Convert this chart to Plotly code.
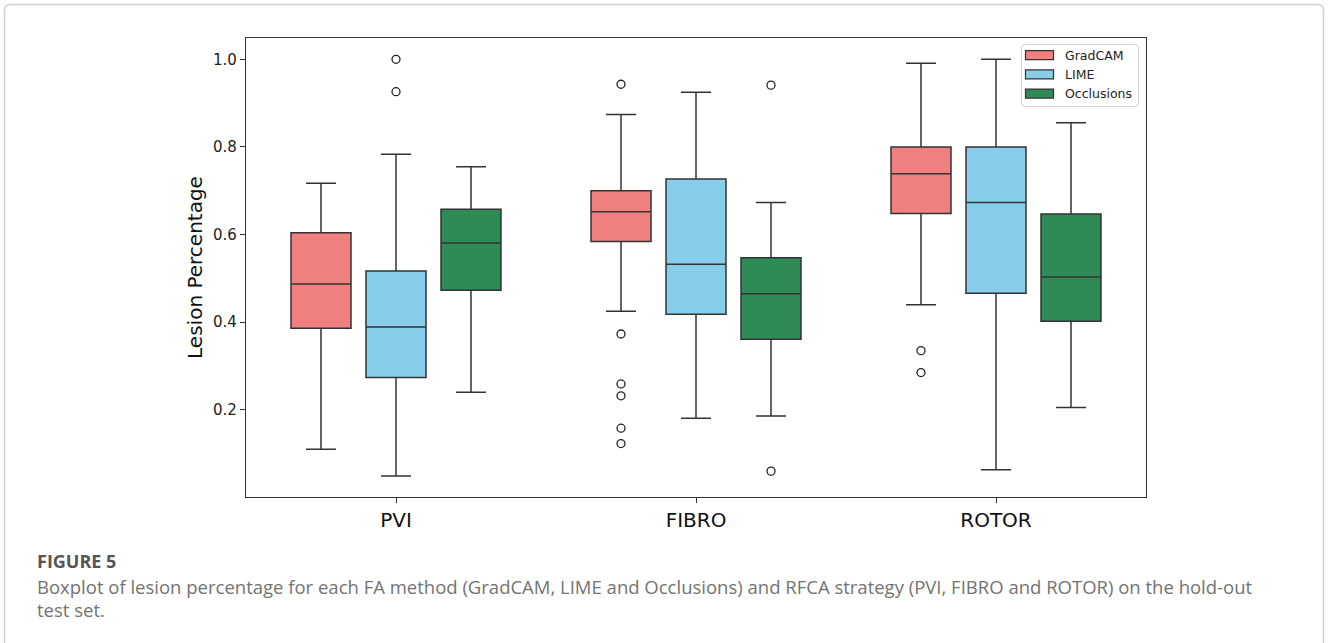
import plotly.graph_objects as go

# Strategies on the x axis and attribution methods as hue
categories = ["PVI", "FIBRO", "ROTOR"]
methods = ["GradCAM", "LIME", "Occlusions"]
colors = ["#F08080", "#87CEEB", "#2E8B57"]

# Box statistics per method, one value per strategy (PVI, FIBRO, ROTOR)
gradcam_low = [0.110, 0.425, 0.440]
gradcam_q1 = [0.386, 0.584, 0.648]
gradcam_med = [0.487, 0.652, 0.739]
gradcam_q3 = [0.604, 0.700, 0.800]
gradcam_high = [0.717, 0.874, 0.991]
gradcam_out = [[], [0.943, 0.373, 0.259, 0.232, 0.158, 0.123], [0.335, 0.285]]

lime_low = [0.049, 0.181, 0.063]
lime_q1 = [0.274, 0.418, 0.466]
lime_med = [0.389, 0.532, 0.673]
lime_q3 = [0.517, 0.727, 0.800]
lime_high = [0.783, 0.925, 1.000]
lime_out = [[1.000, 0.926], [], []]

occl_low = [0.240, 0.186, 0.205]
occl_q1 = [0.473, 0.361, 0.402]
occl_med = [0.581, 0.465, 0.503]
occl_q3 = [0.658, 0.547, 0.647]
occl_high = [0.755, 0.673, 0.855]
occl_out = [[], [0.941, 0.060], []]

y_ticks = [0.2, 0.4, 0.6, 0.8, 1.0]

stats = [
    (gradcam_low, gradcam_q1, gradcam_med, gradcam_q3, gradcam_high, gradcam_out),
    (lime_low, lime_q1, lime_med, lime_q3, lime_high, lime_out),
    (occl_low, occl_q1, occl_med, occl_q3, occl_high, occl_out),
]

W, H = 1328, 643
ML, MR, MT, MB = 246, 182, 38, 146
PW, PH = W - ML - MR, H - MT - MB

EDGE = "#333333"
AXIS_FONT = "DejaVu Sans"
CAP_FONT = "Open Sans"

fig = go.Figure()

slot = 0.25      # spacing between hue boxes within a strategy
box_w = 0.2      # box width in category units

for m, (name, col, st) in enumerate(zip(methods, colors, stats)):
    low, q1, med, q3, high, outs = st
    xs = [i + (m - 1) * slot for i in range(len(categories))]
    fig.add_trace(go.Box(
        x=xs, q1=q1, median=med, q3=q3, lowerfence=low, upperfence=high,
        name=name, width=box_w, whiskerwidth=0.5,
        fillcolor=col, line=dict(color=EDGE, width=1.5),
        boxpoints=False, hoverinfo="skip", showlegend=False,
    ))
    ox, oy = [], []
    for i, vals in enumerate(outs):
        for v in vals:
            ox.append(xs[i])
            oy.append(v)
    if ox:
        fig.add_trace(go.Scatter(
            x=ox, y=oy, mode="markers", showlegend=False, hoverinfo="skip",
            marker=dict(symbol="circle-open", size=8, color="#222222",
                        line=dict(width=1.3, color="#222222")),
        ))


def px_x(p):
    return (p - ML) / PW


def px_y(p):
    return (H - MB - p) / PH


def rounded_path(x0, y0, x1, y1, r, close=True):
    parts = [
        f"M {px_x(x0)},{px_y(y1 - r if close else y1)}",
        f"L {px_x(x0)},{px_y(y0 + r)}",
        f"Q {px_x(x0)},{px_y(y0)} {px_x(x0 + r)},{px_y(y0)}",
        f"L {px_x(x1 - r)},{px_y(y0)}",
        f"Q {px_x(x1)},{px_y(y0)} {px_x(x1)},{px_y(y0 + r)}",
        f"L {px_x(x1)},{px_y(y1 - r if close else y1)}",
    ]
    if close:
        parts += [
            f"Q {px_x(x1)},{px_y(y1)} {px_x(x1 - r)},{px_y(y1)}",
            f"L {px_x(x0 + r)},{px_y(y1)}",
            f"Q {px_x(x0)},{px_y(y1)} {px_x(x0)},{px_y(y1 - r)} Z",
        ]
    return " ".join(parts)


# Outer panel frame (open at the bottom, running past the page edge)
fig.add_shape(type="path", path=rounded_path(4.5, 4.5, 1323.5, 700, 6, close=False),
              xref="paper", yref="paper", line=dict(color="#cfcfcf", width=1.5),
              layer="below")

# Legend: frame, colour swatches and labels
lg_x0, lg_y0, lg_x1, lg_y1 = 1021.5, 44.5, 1138.5, 106.5
fig.add_shape(type="path", path=rounded_path(lg_x0, lg_y0, lg_x1, lg_y1, 3),
              xref="paper", yref="paper", fillcolor="rgba(255,255,255,0.85)",
              line=dict(color="#d4d4d4", width=1), layer="above")
row0, row_step = 55.2, 19.2
for k, (name, col) in enumerate(zip(methods, colors)):
    cy = row0 + k * row_step
    fig.add_shape(type="rect", xref="paper", yref="paper",
                  x0=px_x(1025.5), x1=px_x(1053.5), y0=px_y(cy - 4.5), y1=px_y(cy + 4.5),
                  fillcolor=col, line=dict(color=EDGE, width=1.2), layer="above")
    fig.add_annotation(text=name, xref="paper", yref="paper", x=px_x(1062.5), y=px_y(cy),
                       xanchor="left", yanchor="middle", showarrow=False,
                       font=dict(family=AXIS_FONT, size=12.5, color="#222222"))

# Figure caption
fig.add_annotation(text="<b>FIGURE 5</b>", xref="paper", yref="paper",
                   x=px_x(35), y=px_y(561), xanchor="left", yanchor="middle",
                   showarrow=False, font=dict(family=CAP_FONT, size=18, color="#555555"))
fig.add_annotation(
    text="Boxplot of lesion percentage for each FA method (GradCAM, LIME and Occlusions) "
         "and RFCA strategy (PVI, FIBRO and ROTOR) on the hold-out",
    xref="paper", yref="paper", x=px_x(35), y=px_y(586), xanchor="left", yanchor="middle",
    showarrow=False, font=dict(family=CAP_FONT, size=18.5, color="#737373"))
fig.add_annotation(text="test set.", xref="paper", yref="paper",
                   x=px_x(35), y=px_y(609), xanchor="left", yanchor="middle",
                   showarrow=False, font=dict(family=CAP_FONT, size=18.5, color="#737373"))

fig.update_layout(
    width=W, height=H,
    margin=dict(l=ML, r=MR, t=MT, b=MB, autoexpand=False),
    paper_bgcolor="white", plot_bgcolor="white",
    boxmode="overlay",
    showlegend=False,
    xaxis=dict(
        range=[-0.5, 2.5], tickmode="array", tickvals=list(range(len(categories))),
        ticktext=categories, ticks="outside", ticklen=5, tickcolor=EDGE,
        showline=True, mirror=True, linecolor=EDGE, linewidth=1.2,
        showgrid=False, zeroline=False,
        tickfont=dict(family=AXIS_FONT, size=20, color="#111111"),
    ),
    yaxis=dict(
        range=[0.001, 1.0486], tickmode="array", tickvals=y_ticks,
        ticktext=[f"{v:.1f}" for v in y_ticks], ticks="outside", ticklen=5,
        tickcolor=EDGE, showline=True, mirror=True, linecolor=EDGE, linewidth=1.2,
        showgrid=False, zeroline=False,
        tickfont=dict(family=AXIS_FONT, size=15, color="#222222"),
        title=dict(text="Lesion Percentage", standoff=5,
                   font=dict(family=AXIS_FONT, size=20, color="#111111")),
    ),
)

fig.write_html("out.html")
